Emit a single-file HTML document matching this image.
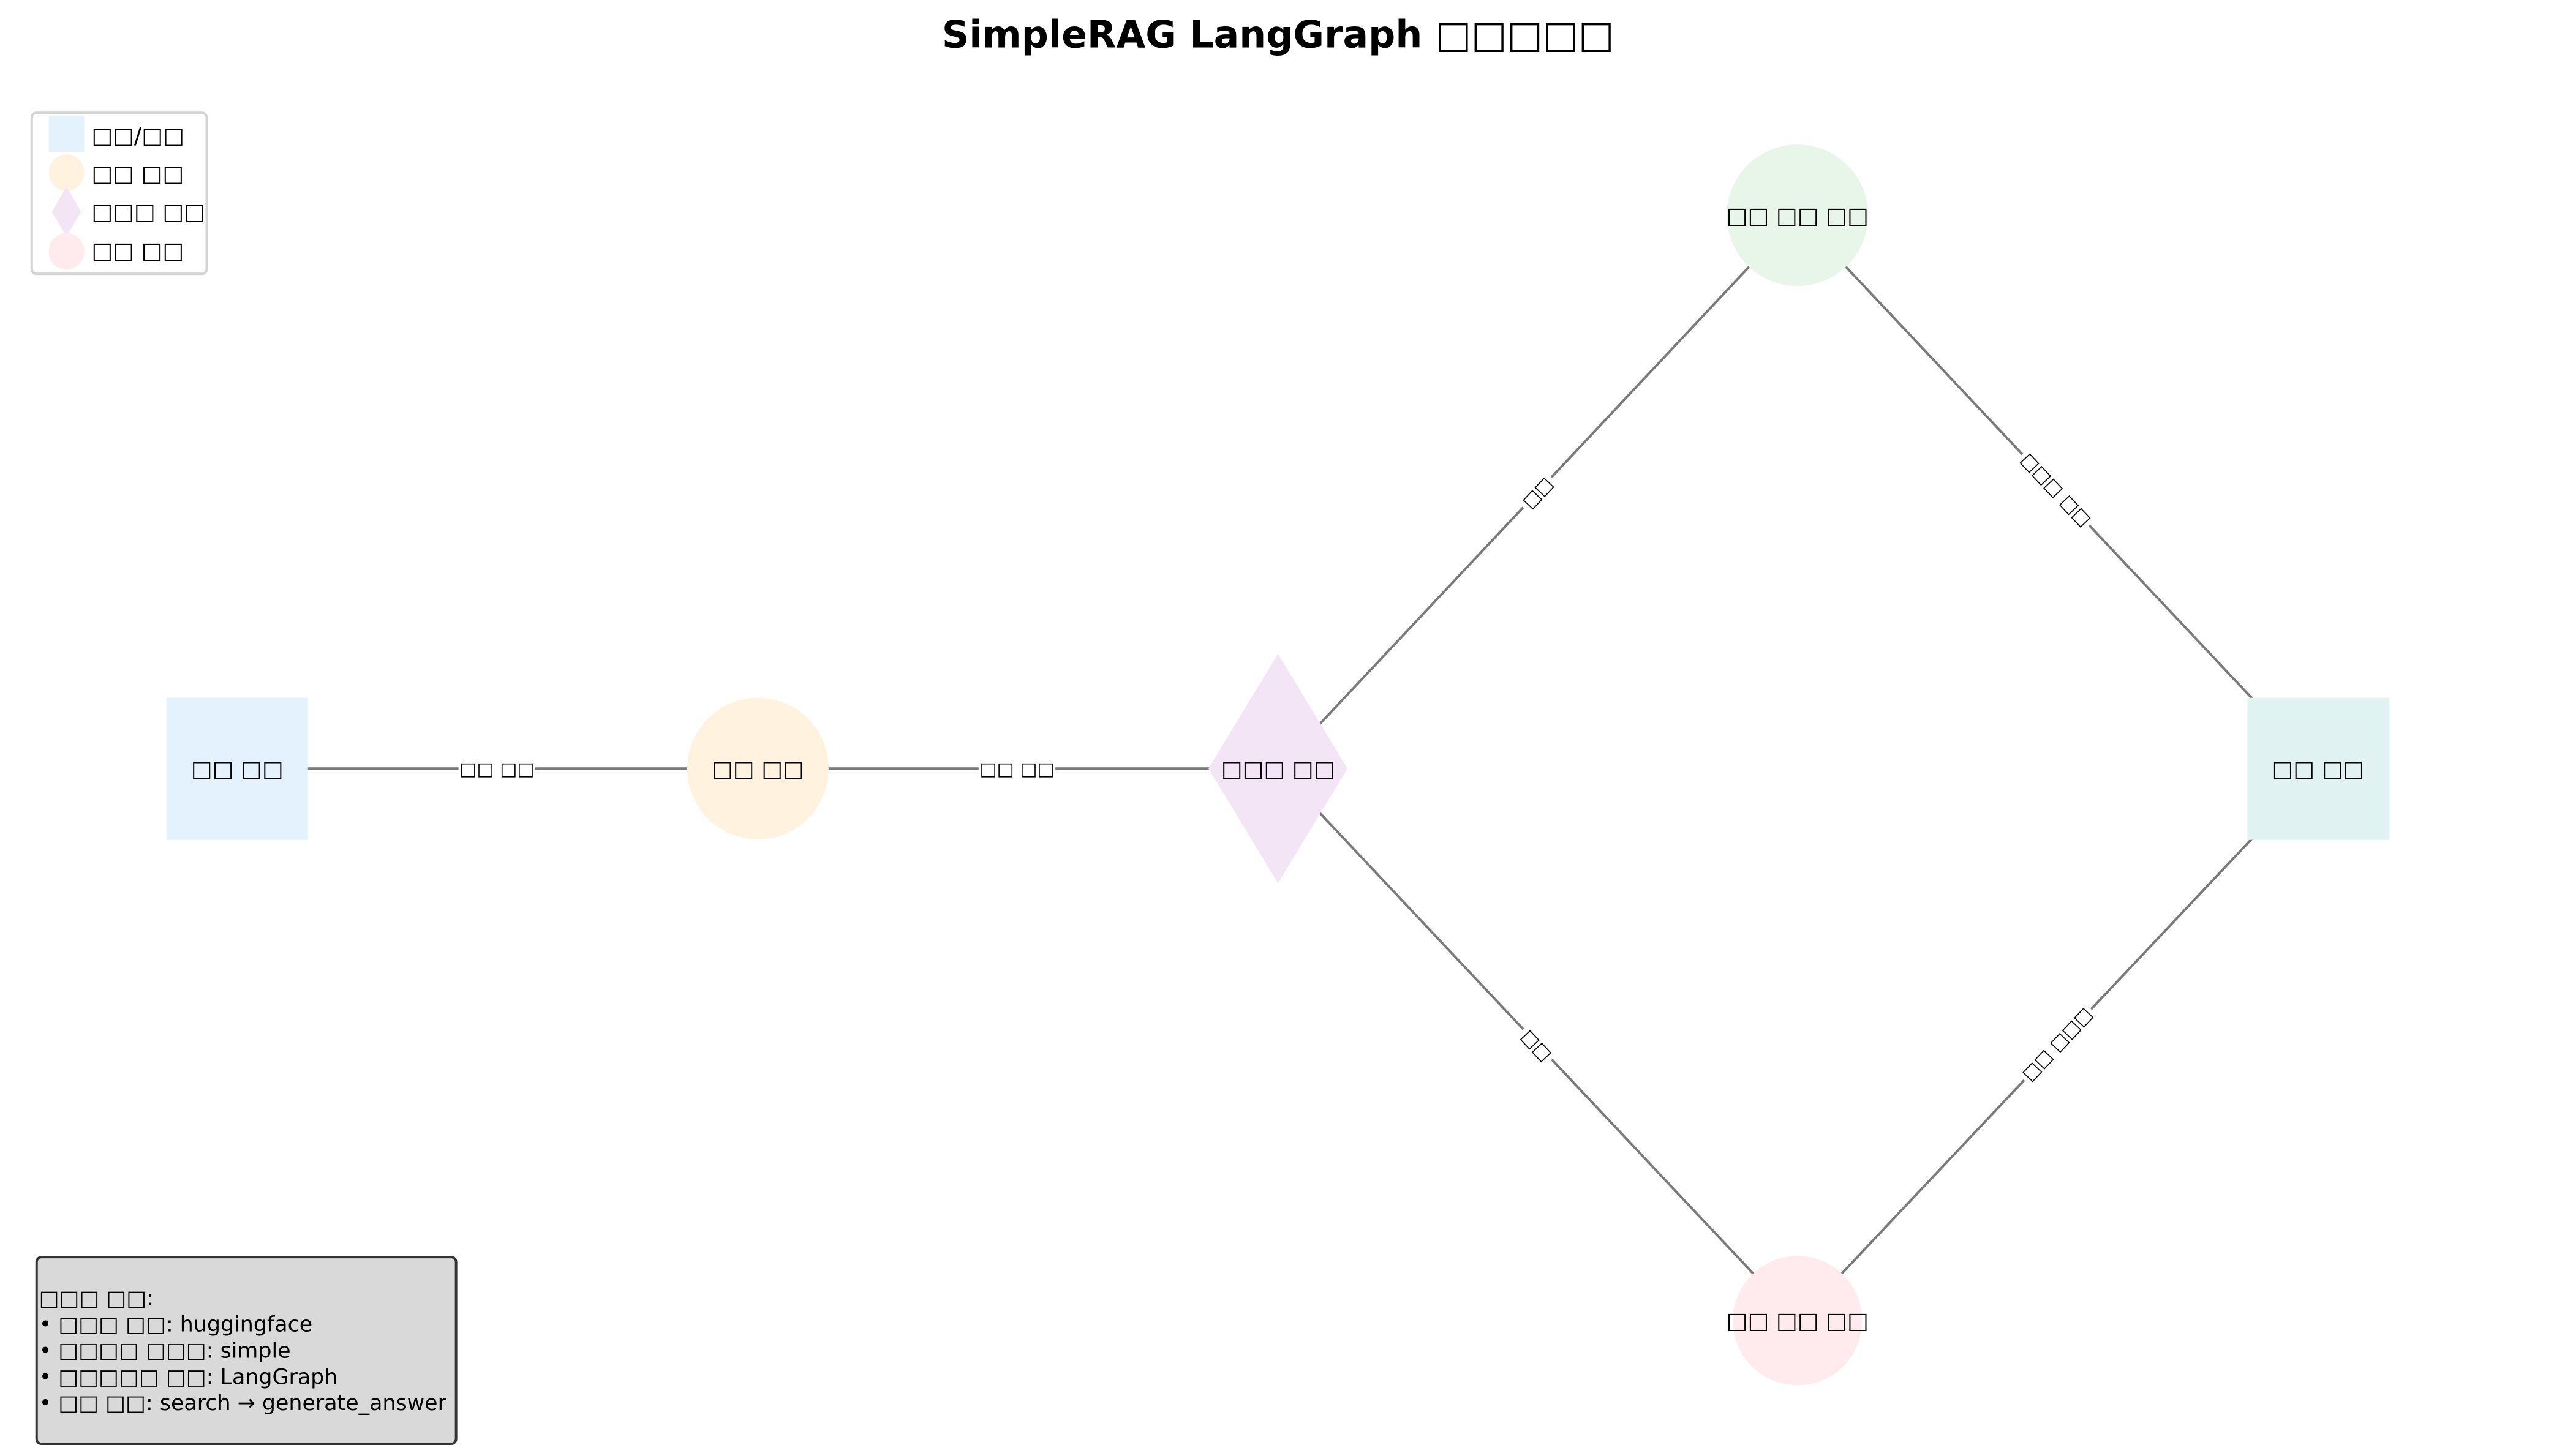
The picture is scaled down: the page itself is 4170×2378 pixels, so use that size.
<!DOCTYPE html>
<html><head><meta charset="utf-8"><style>
html,body{margin:0;padding:0;background:#fff;}
svg{display:block;}
text{font-family:"DejaVu Sans","Liberation Sans",sans-serif;fill:#000;}
</style></head><body>
<svg width="4170" height="2378" viewBox="0 0 4170 2378" xmlns="http://www.w3.org/2000/svg">
<rect width="4170" height="2378" fill="#fff"/>
<g transform="scale(0.9955,0.9962)">
<text x="2096" y="78" font-size="62" font-weight="bold" text-anchor="middle">SimpleRAG LangGraph □□□□□</text>

<g stroke="#7a7a7a" stroke-width="4" fill="none">
<line x1="389" y1="1260" x2="1243" y2="1260"/>
<line x1="1243" y1="1260" x2="2096" y2="1260"/>
<line x1="2096" y1="1260" x2="2948" y2="353"/>
<line x1="2948" y1="353" x2="3802" y2="1260"/>
<line x1="2096" y1="1260" x2="2948" y2="2165"/>
<line x1="3802" y1="1260" x2="2948" y2="2165"/>
</g>

<g font-size="30" text-anchor="middle">
<rect x="752" y="1240" width="126" height="40" fill="#fff"/>
<text x="815" y="1271">□□ □□</text>
<rect x="1605" y="1240" width="126" height="40" fill="#fff"/>
<text x="1668" y="1271">□□ □□</text>
<g transform="translate(2521,807) rotate(-46.8)"><rect x="-34" y="-20" width="68" height="40" fill="#fff"/><text y="11">□□</text></g>
<g transform="translate(3373,802) rotate(46.7)"><rect x="-80" y="-20" width="160" height="40" fill="#fff"/><text y="11">□□□ □□</text></g>
<g transform="translate(2521,1713) rotate(46.8)"><rect x="-34" y="-20" width="68" height="40" fill="#fff"/><text y="11">□□</text></g>
<g transform="translate(3373,1711) rotate(-46.7)"><rect x="-80" y="-20" width="160" height="40" fill="#fff"/><text y="11">□□ □□□</text></g>
</g>

<rect x="273" y="1144" width="232" height="233" fill="#e3f2fd"/>
<circle cx="1243" cy="1260" r="116" fill="#fff3e0"/>
<polygon points="2096,1072 2210,1260 2096,1448 1982,1260" fill="#f3e5f5"/>
<circle cx="2948" cy="353" r="116" fill="#e8f5e9"/>
<circle cx="2948" cy="2165" r="106" fill="#ffebee"/>
<rect x="3686" y="1144" width="233" height="233" fill="#e0f2f1"/>

<g font-size="37" text-anchor="middle">
<text x="389" y="1273">□□ □□</text>
<text x="1243" y="1273">□□ □□</text>
<text x="2096" y="1273">□□□ □□</text>
<text x="2948" y="366">□□ □□ □□</text>
<text x="2948" y="2178">□□ □□ □□</text>
<text x="3802" y="1273">□□ □□</text>
</g>

<rect x="52" y="185" width="287" height="264" rx="8" fill="#fff" stroke="#d4d4d4" stroke-width="4"/>
<rect x="80" y="191" width="58" height="58" fill="#e3f2fd"/>
<ellipse cx="109" cy="283" rx="29" ry="30" fill="#fff3e0"/>
<polygon points="109,306 133,347 109,388 85,347" fill="#f3e5f5"/>
<ellipse cx="109" cy="412" rx="29" ry="30" fill="#ffebee"/>
<g font-size="37">
<text x="150" y="235">□□/□□</text>
<text x="150" y="297">□□ □□</text>
<text x="150" y="360">□□□ □□</text>
<text x="150" y="423">□□ □□</text>
</g>

<rect x="60" y="2061" width="688" height="306" rx="8" fill="#d9d9d9" stroke="#333" stroke-width="4"/>
<g font-size="35">
<text x="64" y="2140">□□□ □□:</text>
<text x="64" y="2183">• □□□ □□: huggingface</text>
<text x="64" y="2226">• □□□□ □□□: simple</text>
<text x="64" y="2269">• □□□□□ □□: LangGraph</text>
<text x="64" y="2312">• □□ □□: search → generate_answer</text>
</g>
</g>
</svg>
</body></html>
